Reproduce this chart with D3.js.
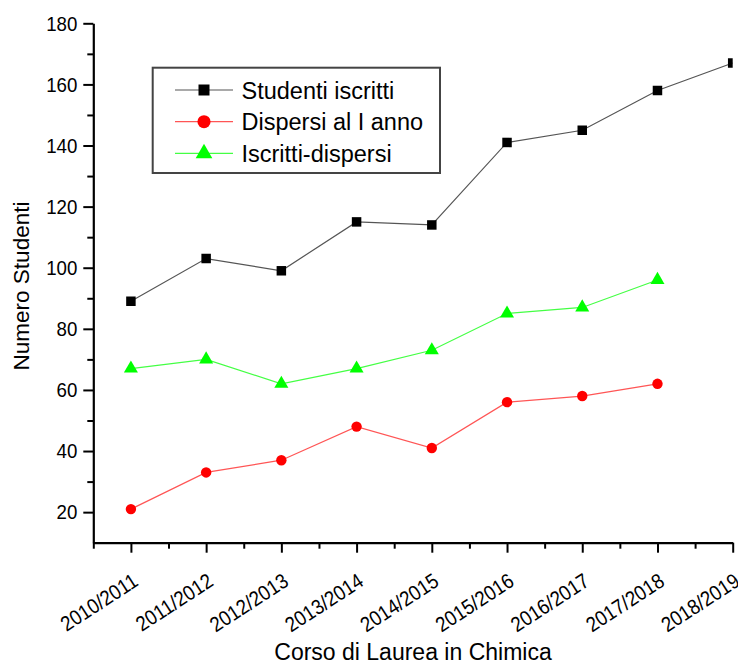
<!DOCTYPE html>
<html>
<head>
<meta charset="utf-8">
<script src="https://cdnjs.cloudflare.com/ajax/libs/d3/7.8.5/d3.min.js"></script>
<style>
  body { margin: 0; background: #fff; }
  svg { display: block; font-family: "Liberation Sans", Arial, sans-serif; }
</style>
</head>
<body>
<div id="chart"></div>
<script>
// data
const anni = ["2010/2011", "2011/2012", "2012/2013", "2013/2014", "2014/2015",
              "2015/2016", "2016/2017", "2017/2018", "2018/2019"];
const iscritti = [89, 103, 99, 115, 114, 141, 145, 158, 167];
const dispersi = [21, 33, 37, 48, 41, 56, 58, 62];
const iscrittiDispersi = [67, 70, 62, 67, 73, 85, 87, 96];
const yTicks = [20, 40, 60, 80, 100, 120, 140, 160, 180];

const serie = [
  { nome: "Studenti iscritti", valori: iscritti, colore: "#000", linea: "#555",
    simbolo: d3.symbolSquare, size: 90, sizeLeg: 121 },
  { nome: "Dispersi al I anno", valori: dispersi, colore: "#ff0000", linea: "#ff5555",
    simbolo: d3.symbolCircle, size: 85, sizeLeg: 135 },
  { nome: "Iscritti-dispersi", valori: iscrittiDispersi, colore: "#00ff00", linea: "#44ff44",
    simbolo: d3.symbolTriangle, size: 85, sizeLeg: 120 }
];

const width = 738, height = 663;
const mLeft = 93.3, mRight = 732.7, mTop = 23.3, mBottom = 542.7;
const sx = 0.89; // tick labels look horizontally condensed

const svg = d3.select("#chart").append("svg")
  .attr("width", width)
  .attr("height", height);

const x = d3.scaleLinear().domain([-0.5, anni.length - 1]).range([mLeft, mRight]);
const y = d3.scaleLinear().domain([10, 180]).range([mBottom, mTop]);

svg.append("defs").append("clipPath").attr("id", "plot")
  .append("rect").attr("x", mLeft).attr("y", 0).attr("width", mRight - mLeft).attr("height", mBottom);

// y axis: major + minor ticks
svg.append("g")
  .attr("transform", "translate(" + mLeft + ",0)")
  .call(d3.axisLeft(y).tickValues(d3.range(30, 180, 20)).tickSize(6).tickFormat(""))
  .call(g => g.select(".domain").remove())
  .call(g => g.selectAll("line").attr("stroke", "#000").attr("stroke-width", 2));

svg.append("g")
  .attr("transform", "translate(" + mLeft + ",0)")
  .call(d3.axisLeft(y).tickValues(yTicks).tickSize(10).tickSizeOuter(0))
  .call(g => g.select(".domain").attr("stroke-width", 2.2))
  .call(g => g.selectAll("line").attr("stroke", "#000").attr("stroke-width", 2))
  .call(g => g.selectAll("text").attr("font-size", 21).attr("fill", "#000")
    .attr("font-family", "Liberation Sans, Arial, sans-serif")
    .attr("x", -16 / sx)
    .attr("transform", "scale(" + sx + ",1)"));

// x axis: major ticks at categories, minor in between
svg.append("g")
  .attr("transform", "translate(0," + mBottom + ")")
  .call(d3.axisBottom(x).tickValues(d3.range(-0.5, anni.length - 1, 1)).tickSize(6).tickFormat(""))
  .call(g => g.select(".domain").remove())
  .call(g => g.selectAll("line").attr("stroke", "#000").attr("stroke-width", 2));

svg.append("g")
  .attr("transform", "translate(0," + mBottom + ")")
  .call(d3.axisBottom(x).tickValues(d3.range(anni.length)).tickSize(10).tickSizeOuter(0)
    .tickFormat(i => anni[i]))
  .call(g => g.select(".domain").attr("stroke-width", 2.2))
  .call(g => g.selectAll("line").attr("stroke", "#000").attr("stroke-width", 2))
  .call(g => g.selectAll("text")
    .attr("font-size", 21).attr("fill", "#000")
    .attr("font-family", "Liberation Sans, Arial, sans-serif")
    .attr("text-anchor", "end")
    .attr("dy", null).attr("y", null)
    .attr("transform", "translate(8,42) rotate(-33) scale(" + sx + ",1)"));

// axis titles
svg.append("text")
  .attr("transform", "translate(29," + 286 + ") rotate(-90)")
  .attr("text-anchor", "middle")
  .attr("font-size", 22.5)
  .text("Numero Studenti");

svg.append("text")
  .attr("x", (mLeft + mRight) / 2)
  .attr("y", 660)
  .attr("text-anchor", "middle")
  .attr("font-size", 23)
  .text("Corso di Laurea in Chimica");

// lines + markers
const plot = svg.append("g").attr("clip-path", "url(#plot)");
const line = d3.line().x((d, i) => x(i)).y(d => y(d));

serie.forEach(s => {
  plot.append("path")
    .datum(s.valori)
    .attr("fill", "none")
    .attr("stroke", s.linea)
    .attr("stroke-width", 1.2)
    .attr("d", line);

  plot.selectAll(null)
    .data(s.valori)
    .enter().append("path")
    .attr("transform", (d, i) => "translate(" + x(i) + "," + y(d) + ")")
    .attr("d", d3.symbol().type(s.simbolo).size(s.size))
    .attr("fill", s.colore);
});

// legend
const leg = svg.append("g");
leg.append("rect")
  .attr("x", 152.7).attr("y", 67.7)
  .attr("width", 440 - 152.7).attr("height", 173 - 67.7)
  .attr("fill", "#fff")
  .attr("stroke", "#444")
  .attr("stroke-width", 2);

serie.forEach((s, k) => {
  const ly = 90 + k * 31.7;
  leg.append("line")
    .attr("x1", 175).attr("x2", 233).attr("y1", ly).attr("y2", ly)
    .attr("stroke", s.linea).attr("stroke-width", 1.2);
  leg.append("path")
    .attr("transform", "translate(204," + ly + ")")
    .attr("d", d3.symbol().type(s.simbolo).size(s.sizeLeg))
    .attr("fill", s.colore);
  leg.append("text")
    .attr("x", 241.5).attr("y", ly + 8.5)
    .attr("font-size", 23.5)
    .text(s.nome);
});
</script>
</body>
</html>
